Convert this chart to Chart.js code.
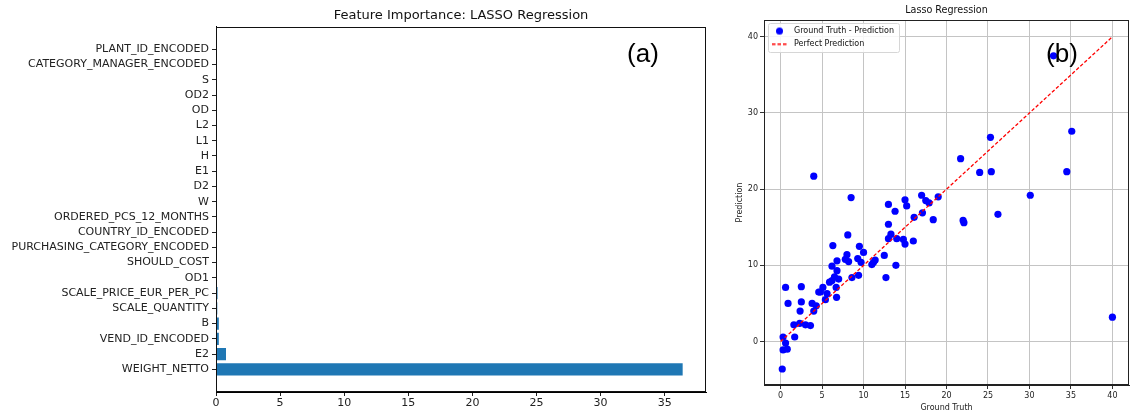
<!DOCTYPE html>
<html>
<head>
<meta charset="utf-8">
<script src="https://cdn.jsdelivr.net/npm/chart.js@4.4.1/dist/chart.umd.min.js"></script>
<style>
  html, body { margin: 0; padding: 0; background: #fff; }
  body { width: 1133px; height: 414px; position: relative; overflow: hidden; }
  .panel { position: absolute; top: 0; height: 414px; }
  #left { left: 0; width: 716px; }
  #right { left: 720px; width: 413px; }
</style>
</head>
<body>
<div class="panel" id="left"><canvas id="importanceChart"></canvas></div>
<div class="panel" id="right"><canvas id="scatterChart"></canvas></div>
<script>
// ---- (a) LASSO coefficients, listed top to bottom ----
const featureNames = [
  'PLANT_ID_ENCODED', 'CATEGORY_MANAGER_ENCODED', 'S', 'OD2', 'OD', 'L2', 'L1', 'H',
  'E1', 'D2', 'W', 'ORDERED_PCS_12_MONTHS', 'COUNTRY_ID_ENCODED',
  'PURCHASING_CATEGORY_ENCODED', 'SHOULD_COST', 'OD1', 'SCALE_PRICE_EUR_PER_PC',
  'SCALE_QUANTITY', 'B', 'VEND_ID_ENCODED', 'E2', 'WEIGHT_NETTO'
];
const featureImportance = [
  0, 0, 0, 0, 0, 0, 0, 0,
  0, 0, 0, 0, 0,
  0, 0, 0.01, 0.12,
  0.1, 0.22, 0.22, 0.78, 36.4
];
const importanceTicks = [0, 5, 10, 15, 20, 25, 30, 35];

// ---- (b) ground truth vs. prediction ----
const groundTruth = [
  4.0, 8.5, 13.0, 15.0, 15.2, 13.8, 17.0, 17.5, 17.9, 19.0,
  16.1, 17.1, 18.4, 13.0, 13.3, 13.0, 14.0, 14.8, 15.0, 16.0,
  8.1, 6.3, 9.5, 10.0, 8.0, 7.8, 8.2, 6.8, 9.3, 9.7,
  11.2, 11.4, 11.0, 12.5, 6.2, 6.8, 6.5, 13.9, 12.7, 8.6,
  9.4, 7.0, 21.7, 24.0, 25.4, 34.5, 30.1, 26.2, 22.0, 22.1,
  32.9, 35.1, 25.3, 40.0, 0.6, 2.5, 0.9, 2.5, 2.35, 3.8,
  4.3, 4.0, 1.6, 2.3, 3.0, 3.6, 1.7, 0.3, 0.6, 0.3,
  0.8, 0.2, 4.6, 4.8, 5.1, 5.6, 5.4, 5.9, 6.2, 6.7,
  6.75
];
const prediction = [
  21.7, 18.9, 18.0, 18.6, 17.8, 17.1, 19.2, 18.5, 18.2, 19.0,
  16.3, 16.9, 16.0, 15.4, 14.1, 13.5, 13.5, 13.4, 12.8, 13.2,
  14.0, 12.6, 12.5, 11.7, 11.4, 10.8, 10.5, 10.6, 10.9, 10.4,
  10.4, 10.7, 10.1, 11.3, 9.9, 9.3, 8.5, 10.0, 8.4, 8.4,
  8.7, 8.2, 24.0, 22.2, 22.3, 22.3, 19.2, 16.7, 15.9, 15.6,
  37.5, 27.6, 26.8, 3.2, 7.1, 7.2, 5.0, 5.2, 4.0, 5.0,
  4.7, 4.0, 2.2, 2.4, 2.2, 2.1, 0.6, 0.6, -0.2, -1.1,
  -1.0, -3.6, 6.5, 6.5, 7.1, 6.3, 5.5, 7.8, 8.0, 7.1,
  5.8
];
const perfectLine = [0, 40];
const truthTicks = [0, 5, 10, 15, 20, 25, 30, 35, 40];
const predictionTicks = [0, 10, 20, 30, 40];

Chart.defaults.font.family = '"DejaVu Sans", sans-serif';
Chart.defaults.color = '#222';
Chart.defaults.animation = false;

// Closed box round the plotting area (all four spines)
const frameBox = {
  id: 'frameBox',
  afterDatasetsDraw(chart, args, opts) {
    const { left, top, right, bottom } = chart.chartArea;
    const ctx = chart.ctx;
    ctx.save();
    ctx.strokeStyle = opts.color || '#000';
    ctx.lineWidth = 1;
    ctx.strokeRect(Math.round(left) + 0.5, Math.round(top) + 0.5,
                   Math.round(right - left) - 1, Math.round(bottom - top) - 1);
    ctx.restore();
  }
};

// Large panel letter in the upper right of each plot
const panelLetter = {
  id: 'panelLetter',
  afterDraw(chart, args, opts) {
    const ctx = chart.ctx;
    ctx.save();
    ctx.font = opts.font;
    ctx.fillStyle = '#000';
    ctx.textAlign = 'center';
    ctx.textBaseline = 'middle';
    ctx.fillText(opts.text, chart.chartArea.right - opts.fromRight, chart.chartArea.top + opts.fromTop);
    ctx.restore();
  }
};

// Legend sits in the upper left corner of the plot, on a white rounded frame
const legendFrame = {
  id: 'legendFrame',
  afterLayout(chart, args, opts) {
    const lg = chart.legend;
    if (!lg) return;
    lg.left = chart.chartArea.left + opts.dx;
    lg.top = chart.chartArea.top + opts.dy;
    lg.right = lg.left + lg.width;
    lg.bottom = lg.top + lg.height;
  },
  beforeDatasetsDraw(chart) {
    const lg = chart.legend;
    if (!lg || !lg.columnSizes || !lg.columnSizes.length) return;
    const pad = lg.options.labels.padding;
    const col = lg.columnSizes[0];
    const l = lg.left + pad - 1;
    const t = lg.top + pad - 4;
    const w = col.width + 6;
    const h = col.height + 3;
    const ctx = chart.ctx;
    ctx.save();
    ctx.beginPath();
    ctx.roundRect(Math.round(l) + 0.5, Math.round(t) + 0.5, Math.round(w), Math.round(h), 2);
    ctx.fillStyle = 'rgba(255,255,255,0.85)';
    ctx.fill();
    ctx.strokeStyle = '#d6d6d6';
    ctx.lineWidth = 1;
    ctx.stroke();
    ctx.restore();
    lg.draw();
  }
};

// ---------- Chart (a) ----------
new Chart(document.getElementById('importanceChart'), {
  type: 'bar',
  data: {
    datasets: [{
      data: featureNames.map((n, i) => ({ x: featureImportance[i], y: i })),
      backgroundColor: '#1f77b4',
      borderWidth: 0,
      categoryPercentage: 1,
      barPercentage: 0.8
    }]
  },
  options: {
    indexAxis: 'y',
    responsive: true,
    maintainAspectRatio: false,
    events: [],
    layout: { padding: { left: 0, right: 10, top: 0, bottom: 0 } },
    scales: {
      x: {
        type: 'linear',
        min: 0,
        max: Math.max(...featureImportance) * 1.05,
        afterBuildTicks(scale) { scale.ticks = importanceTicks.map(v => ({ value: v })); },
        afterFit(scale) { scale.height = 22; },
        grid: { drawOnChartArea: false, drawTicks: true, tickLength: 4, tickColor: '#222' },
        border: { display: true, color: '#000', width: 1 },
        ticks: { font: { size: 11 }, color: '#222', padding: 1 }
      },
      y: {
        type: 'linear',
        offset: false,
        reverse: true,
        min: -1.49,
        max: featureNames.length - 1 + 1.49,
        afterBuildTicks(scale) { scale.ticks = featureNames.map((n, i) => ({ value: i })); },
        afterFit(scale) { scale.width = 216; },
        grid: { offset: false, drawOnChartArea: false, drawTicks: true, tickLength: 4, tickColor: '#222' },
        border: { display: true, color: '#000', width: 1 },
        ticks: {
          autoSkip: false,
          font: { size: 11 },
          color: '#222',
          padding: 3,
          callback: v => featureNames[v]
        }
      }
    },
    plugins: {
      legend: { display: false },
      tooltip: { enabled: false },
      title: {
        display: true,
        fullSize: false,
        text: 'Feature Importance: LASSO Regression',
        font: { size: 13, weight: 'normal' },
        color: '#111',
        padding: { top: 8, bottom: 3 }
      },
      frameBox: { color: '#111' },
      panelLetter: { text: '(a)', font: '26px "Liberation Sans", sans-serif', fromRight: 63, fromTop: 28 }
    }
  },
  plugins: [frameBox, panelLetter]
});

// ---------- Chart (b) ----------
function dotIcon() {
  const c = document.createElement('canvas');
  c.width = 9; c.height = 9;
  const g = c.getContext('2d');
  g.fillStyle = '#0000ff';
  g.beginPath(); g.arc(4.5, 4.5, 3.5, 0, Math.PI * 2); g.fill();
  return c;
}
function dashIcon() {
  const c = document.createElement('canvas');
  c.width = 15; c.height = 3;
  const g = c.getContext('2d');
  g.strokeStyle = '#ff0000';
  g.lineWidth = 1.3;
  g.setLineDash([3.5, 2]);
  g.beginPath(); g.moveTo(0, 1.5); g.lineTo(15, 1.5); g.stroke();
  return c;
}
const legendIcons = [dotIcon(), dashIcon()];

new Chart(document.getElementById('scatterChart'), {
  type: 'scatter',
  data: {
    datasets: [
      {
        label: 'Ground Truth - Prediction',
        data: groundTruth.map((g, i) => ({ x: g, y: prediction[i] })),
        backgroundColor: '#0000ff',
        borderWidth: 0,
        pointRadius: 3.6,
        order: 2
      },
      {
        type: 'line',
        label: 'Perfect Prediction',
        data: perfectLine.map(v => ({ x: v, y: v })),
        borderColor: '#ff0000',
        borderWidth: 1.3,
        borderDash: [3.5, 2],
        pointRadius: 0,
        fill: false,
        order: 1
      }
    ]
  },
  options: {
    responsive: true,
    maintainAspectRatio: false,
    events: [],
    layout: { padding: { left: 0, right: 1, top: 0, bottom: 0 } },
    scales: {
      x: {
        type: 'linear',
        min: -2,
        max: 42,
        afterBuildTicks(scale) { scale.ticks = truthTicks.map(v => ({ value: v })); },
        afterFit(scale) { scale.height = 29; },
        grid: { color: '#c4c4c4', lineWidth: 1, drawTicks: true, tickLength: 4, tickColor: '#333' },
        border: { display: true, color: '#222', width: 1 },
        ticks: { font: { size: 8 }, color: '#222', padding: 2 },
        title: {
          display: true,
          text: 'Ground Truth',
          font: { size: 8 },
          color: '#222',
          padding: { top: 0, bottom: 1 }
        }
      },
      y: {
        type: 'linear',
        min: -5.7,
        max: 42.2,
        afterBuildTicks(scale) { scale.ticks = predictionTicks.map(v => ({ value: v })); },
        afterFit(scale) { scale.width = 44; },
        grid: { color: '#c4c4c4', lineWidth: 1, drawTicks: true, tickLength: 4, tickColor: '#333' },
        border: { display: true, color: '#222', width: 1 },
        ticks: { font: { size: 8 }, color: '#222', padding: 2 },
        title: {
          display: true,
          text: 'Prediction',
          font: { size: 8 },
          color: '#222',
          padding: { top: 15, bottom: 0 }
        }
      }
    },
    plugins: {
      tooltip: { enabled: false },
      title: {
        display: true,
        fullSize: false,
        text: 'Lasso Regression',
        font: { size: 9.6, weight: 'normal' },
        color: '#111',
        padding: { top: 4.5, bottom: 4 }
      },
      legend: {
        position: 'chartArea',
        align: 'start',
        labels: {
          usePointStyle: true,
          pointStyleWidth: 21,
          boxHeight: 8,
          padding: 5,
          font: { size: 8 },
          color: '#222',
          generateLabels(chart) {
            const items = Chart.defaults.plugins.legend.labels.generateLabels(chart);
            items.sort((a, b) => a.datasetIndex - b.datasetIndex);
            items.forEach(it => { it.pointStyle = legendIcons[it.datasetIndex]; it.lineWidth = 0; });
            return items;
          }
        }
      },
      legendFrame: { dx: 0, dy: 2 },
      frameBox: { color: '#222' },
      panelLetter: { text: '(b)', font: '26px "Liberation Sans", sans-serif', fromRight: 67, fromTop: 35 }
    }
  },
  plugins: [legendFrame, frameBox, panelLetter]
});
</script>
</body>
</html>
